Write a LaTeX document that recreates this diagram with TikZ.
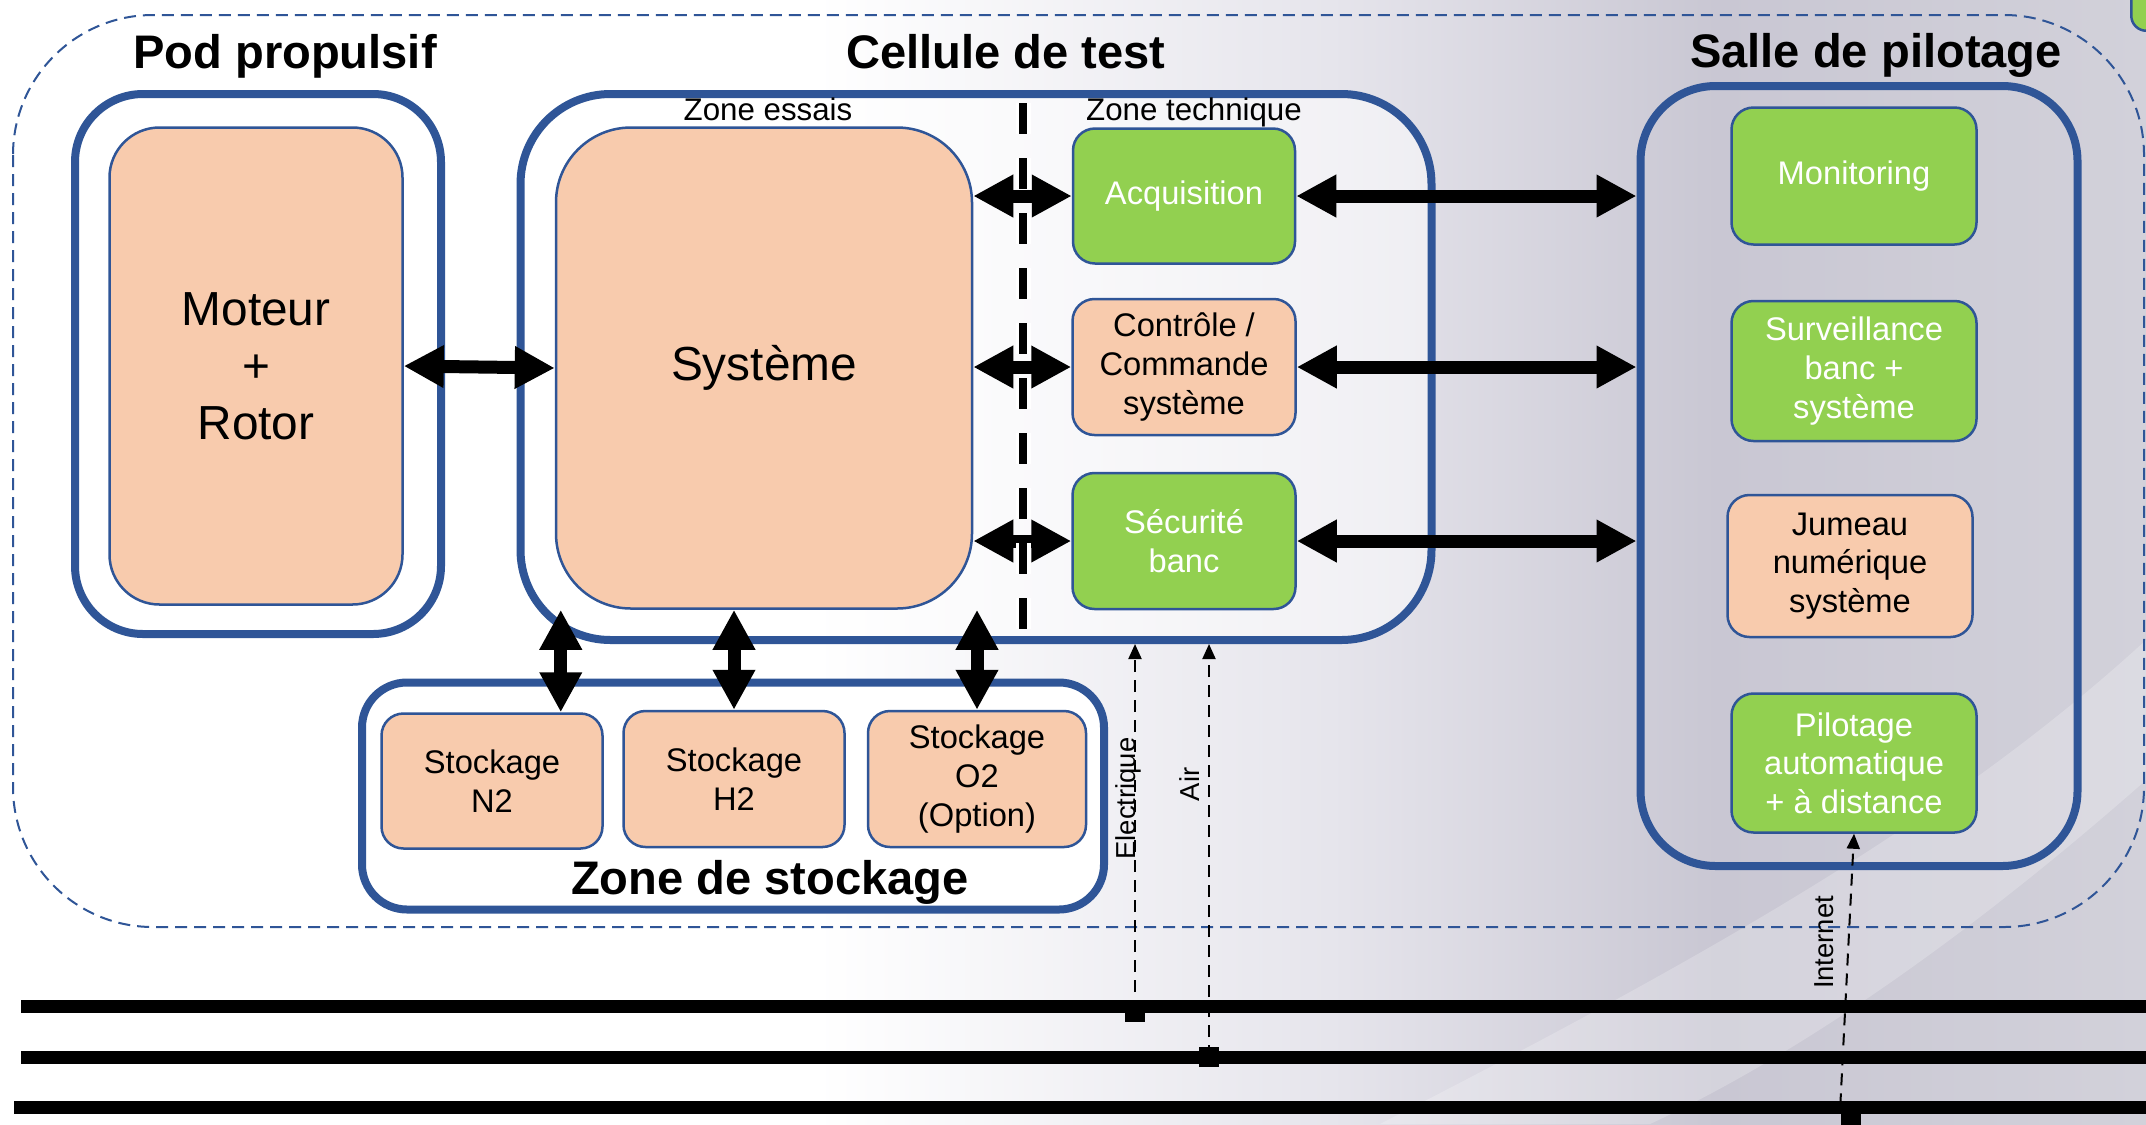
\documentclass[tikz,border=0pt]{standalone}
\usepackage{fontspec}
\setmainfont{Liberation Sans}
\usepackage{xcolor}
\definecolor{frameBlue}{HTML}{2F5597}
\definecolor{peach}{HTML}{F8CBAD}
\definecolor{leaf}{HTML}{92D050}
\definecolor{bgMid}{HTML}{E6E5EC}
\definecolor{bgDark}{HTML}{C9C7D3}
\definecolor{bgRight}{HTML}{D2D1DA}
\usetikzlibrary{arrows.meta,positioning,calc}
\pgfdeclarehorizontalshading{bgwash}{100bp}{color(0bp)=(white); color(44bp)=(white); color(56bp)=(bgMid); color(65bp)=(bgDark); color(75bp)=(bgRight); color(100bp)=(bgRight)}

\begin{document}
\begin{tikzpicture}[x=0.1mm, y=-0.1mm,
    container/.style={draw=frameBlue, line width=0.8mm, fill=white},
    peachbox/.style={draw=frameBlue, line width=0.25mm, fill=peach, rounded corners=2.2mm, align=center, inner sep=1pt, font=\fontsize{9.3}{11}\selectfont, text=black},
    greenbox/.style={peachbox, fill=leaf, text=white},
    bigbox/.style={peachbox, font=\fontsize{13.6}{16.2}\selectfont},
    title/.style={font=\fontsize{13.4}{16}\selectfont\bfseries, anchor=base},
    zonelabel/.style={font=\fontsize{8.9}{10.5}\selectfont, anchor=base},
    bigarrow/.style={{Triangle[length=4mm,width=4mm]}-{Triangle[length=4mm,width=4mm]}, line width=1.3mm},
    feed/.style={-{Triangle[length=1.5mm,width=1.3mm]}, dash pattern=on 1.2mm off 0.8mm, line width=0.2mm},
    feedlabel/.style={font=\fontsize{7.8}{9}\selectfont, rotate=90},
    plug/.style={fill=black, inner sep=0pt, minimum width=2mm, minimum height=2mm},
    bus/.style={line width=1.3mm}
]
    % Page and background
    \useasboundingbox (0,0) rectangle (2146,1124);
    \clip (0,0) rectangle (2146,1124);
    \shade[shading=bgwash] (0,0) rectangle (2146,1124);
    \fill[white, opacity=0.22] (1380,1124) .. controls (1700,960) and (1950,820) .. (2146,640)
        -- (2146,780) .. controls (2010,900) and (1830,1040) .. (1650,1124) -- cycle;

    % Outer dashed frame
    \draw[frameBlue, line width=0.2mm, dash pattern=on 1.2mm off 0.7mm, rounded corners=14mm]
        (13,15) rectangle (2144,927);
    \node[greenbox, minimum width=4mm, minimum height=7mm, rounded corners=1.5mm, anchor=south west] (cornerbox) at (2130,32) {};

    % Titles
    \node[title] (podtitle) at (285,68) {Pod propulsif};
    \node[title] (celltitle) at (1006,68) {Cellule de test};
    \node[title] (salletitle) at (1876,67) {Salle de pilotage};

    % Containers
    \node[container, rounded corners=6.8mm, minimum width=36.6mm, minimum height=54mm] (pod) at (258,364) {};
    \node[container, fill opacity=0.5, rounded corners=9mm, minimum width=91.1mm, minimum height=54.6mm] (cellule) at (976,367) {};
    \node[container, fill=none, rounded corners=7.5mm, minimum width=43.7mm, minimum height=78mm] (salle) at (1859,476) {};
    \node[container, rounded corners=4.5mm, minimum width=74.2mm, minimum height=22.7mm] (stockzone) at (733,796) {};
    \node[title] (stocktitle) at (770,894) {Zone de stockage};

    \node[zonelabel] (essais) at (768,120) {Zone essais};
    \node[zonelabel] (technique) at (1194,120) {Zone technique};

    % Pod and test zone
    \node[bigbox, rounded corners=5mm, minimum width=29.3mm, minimum height=47.7mm] (moteur) at (256,366) {Moteur\\+\\Rotor};
    \node[bigbox, rounded corners=7.5mm, minimum width=41.6mm, minimum height=48.1mm] (systeme) at (764,368) {Système};

    % Technical zone
    \node[greenbox, minimum width=22.2mm, minimum height=13.5mm] (acquisition) at (1184,196) {Acquisition};
    \node[peachbox, minimum width=22.3mm, minimum height=13.6mm] (controle) at (1184,367) {Contrôle /\\Commande\\système};
    \node[greenbox, minimum width=22.3mm, minimum height=13.6mm] (securite) at (1184,541) {Sécurité\\banc};

    % Control room
    \node[greenbox, minimum width=24.5mm, minimum height=13.7mm] (monitoring) at (1854,176) {Monitoring};
    \node[greenbox, minimum width=24.5mm, minimum height=14mm] (surveillance) at (1854,371) {Surveillance\\banc +\\système};
    \node[peachbox, minimum width=24.5mm, minimum height=14.2mm] (jumeau) at (1850,566) {Jumeau\\numérique\\système};
    \node[greenbox, minimum width=24.5mm, minimum height=13.9mm] (pilotage) at (1854,763) {Pilotage\\automatique\\+ à distance};

    % Storage
    \node[peachbox, minimum width=22.1mm, minimum height=13.5mm] (n2) at (492,781) {Stockage\\N2};
    \node[peachbox, minimum width=22.1mm, minimum height=13.6mm] (h2) at (734,779) {Stockage\\H2};
    \node[peachbox, minimum width=21.8mm, minimum height=13.6mm] (o2) at (977,779) {Stockage\\O2\\(Option)};

    % Links
    \draw[bigarrow] (moteur.east) -- (systeme.west);
    \draw[bigarrow] (systeme.east |- acquisition.west) -- (acquisition.west);
    \draw[bigarrow] (systeme.east |- controle.west) -- (controle.west);
    \draw[bigarrow] (systeme.east |- securite.west) -- (securite.west);
    \draw[bigarrow] (acquisition.east) -- (acquisition.east -| salle.west);
    \draw[bigarrow] (controle.east) -- (controle.east -| salle.west);
    \draw[bigarrow] (securite.east) -- (securite.east -| salle.west);
    \draw[bigarrow] (n2.45) -- (n2.45 |- systeme.south);
    \draw[bigarrow] (h2.north) -- (h2.north |- systeme.south);
    \draw[bigarrow] (o2.north) -- (o2.north |- systeme.south);

    % Zone divider
    \coordinate (divtop) at (1023,103);
    \coordinate (divbot) at (1023,640);
    \draw[white, line width=1.5mm, dash pattern=on 3.1mm off 2.4mm] (divtop) -- (divbot);
    \draw[black, line width=0.8mm, dash pattern=on 3.1mm off 2.4mm] (divtop) -- (divbot);

    % Supply lines
    \foreach \yb/\xb in {1006/21, 1057/21, 1107/14}
        \draw[bus] (\xb,\yb) -- (2150,\yb);
    \node[plug] (elecplug) at (1135,1012) {};
    \node[plug] (airplug) at (1209,1057) {};
    \node[plug] (inetplug) at (1851,1116) {};

    \draw[feed] (elecplug.center) -- (elecplug.center |- cellule.south)
        node[feedlabel, pos=0.58, anchor=base, inner sep=0pt] {Electrique};
    \draw[feed] (airplug.center) -- (airplug.center |- cellule.south)
        node[feedlabel, pos=0.66, anchor=south, inner sep=2.5pt] {Air};
    \draw[feed] (inetplug.north west) -- (pilotage.south)
        node[feedlabel, pos=0.6, anchor=south, inner sep=4pt] {Internet};
\end{tikzpicture}
\end{document}
